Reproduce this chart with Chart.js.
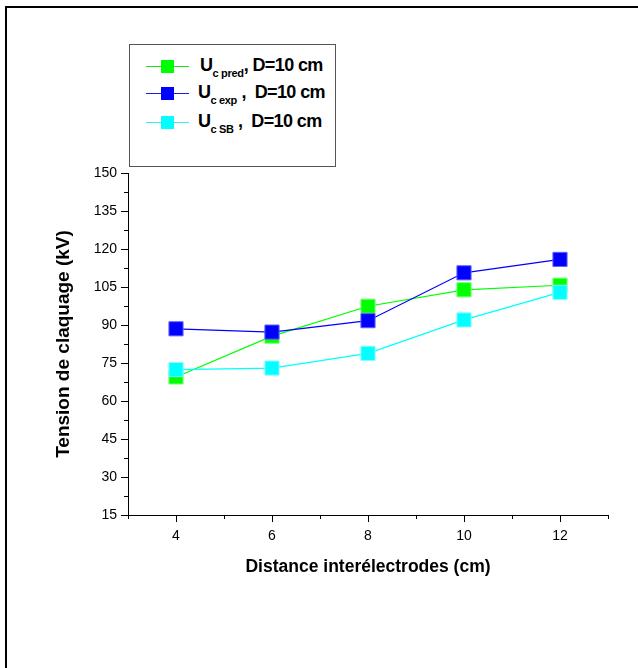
<!DOCTYPE html>
<html>
<head>
<meta charset="utf-8">
<script src="https://cdn.jsdelivr.net/npm/chart.js@4"></script>
<style>
  body { margin: 0; background: #fff; font-family: "Liberation Sans", Arial, sans-serif; }
  #wrap { position: relative; width: 638px; height: 668px; overflow: hidden; }
  #frame { position: absolute; left: 5px; top: 6px; width: 700px; height: 700px;
           border-top: 2px solid #000; border-left: 2px solid #000; }
  canvas { position: absolute; left: 0; top: 0; }
  #legend { position: absolute; left: 129px; top: 44px; width: 205px; height: 121px;
            border: 1px solid #555; background: #fff; }
  .row { position: absolute; left: 0; height: 24px; width: 205px; }
  .row .line { position: absolute; left: 16px; top: 11px; width: 43px; height: 1px; }
  .row .mark { position: absolute; left: 31px; top: 5px; width: 13px; height: 13px; }
  .row .txt { position: absolute; top: 0; font-weight: bold; font-size: 18px;
              letter-spacing: -0.6px; white-space: pre; color: #000; }
  .row sub { font-size: 11px; vertical-align: -6px; letter-spacing: -0.3px; }
</style>
</head>
<body>
<div id="wrap">
  <div id="frame"></div>
  <canvas id="chart" width="638" height="668"></canvas>
  <div id="legend"></div>
</div>
<script>
// Data
const distances = [4, 6, 8, 10, 12];
const ucPred = [69.5, 85.6, 97.4, 103.9, 105.7];
const ucExp  = [88.5, 87.2, 91.7, 110.6, 115.9];
const ucSB   = [72.4, 73.0, 78.8, 92.0, 102.9];

const legendItems = [
  { sub: 'c pred', after: ', D=10 cm', color: '#00ff00', line: '#22dd22', left: 70 },
  { sub: 'c exp',  after: ' ,  D=10 cm', color: '#0000ff', line: '#2020e0', left: 68 },
  { sub: 'c SB',   after: ' ,  D=10 cm', color: '#00ffff', line: '#33eeee', left: 68 }
];

// Build HTML legend (needs subscripts)
const legendEl = document.getElementById('legend');
const rowTops = [10, 37, 66];
legendItems.forEach((item, i) => {
  const row = document.createElement('div');
  row.className = 'row';
  row.style.top = rowTops[i] + 'px';
  row.innerHTML =
    `<div class="line" style="background:${item.line}"></div>` +
    `<div class="mark" style="background:${item.color}"></div>` +
    `<div class="txt" style="left:${item.left}px">U<sub>${item.sub}</sub>${item.after}</div>`;
  legendEl.appendChild(row);
});

const isMajorY = v => Math.abs(v % 15) < 1e-6;
const isMajorX = v => v % 2 === 0;

// Short minor ticks, drawn from the scales
const minorTicks = {
  id: 'minorTicks',
  afterDraw(chart) {
    const { ctx, scales: { x, y } } = chart;
    ctx.save();
    ctx.strokeStyle = '#000';
    ctx.lineWidth = 1;
    x.ticks.forEach(t => {
      if (isMajorX(t.value)) return;
      const px = Math.round(x.getPixelForValue(t.value)) + 0.5;
      ctx.beginPath();
      ctx.moveTo(px, x.top);
      ctx.lineTo(px, x.top + 4);
      ctx.stroke();
    });
    y.ticks.forEach(t => {
      if (isMajorY(t.value)) return;
      const py = Math.round(y.getPixelForValue(t.value)) + 0.5;
      ctx.beginPath();
      ctx.moveTo(y.right, py);
      ctx.lineTo(y.right - 4, py);
      ctx.stroke();
    });
    ctx.restore();
  }
};

const makeSet = (data, color, border, order) => ({
  data: distances.map((d, i) => ({ x: d, y: data[i] })),
  borderColor: color,
  backgroundColor: color,
  borderWidth: 1.2,
  pointStyle: 'rect',
  pointRadius: 10,
  pointBackgroundColor: color,
  pointBorderColor: border,
  pointBorderWidth: 1,
  tension: 0,
  order: order
});

const fam = '"Liberation Sans", Arial, sans-serif';
const tickFont = { family: fam, size: 14 };

new Chart(document.getElementById('chart'), {
  type: 'line',
  data: {
    datasets: [
      makeSet(ucSB, '#00ffff', '#80ffff', 1),
      makeSet(ucExp, '#0000ff', '#6060ff', 2),
      makeSet(ucPred, '#00ff00', '#70ff70', 3)
    ]
  },
  options: {
    responsive: false,
    animation: false,
    layout: { padding: { left: 52, top: 173, right: 30, bottom: 90 } },
    plugins: { legend: { display: false }, tooltip: { enabled: false } },
    scales: {
      x: {
        type: 'linear',
        min: 3,
        max: 13,
        afterFit: s => { s.height = 63; },
        border: { display: true, color: '#000', width: 1 },
        grid: {
          drawOnChartArea: false,
          tickLength: 7,
          tickColor: c => isMajorX(c.tick.value) ? '#000' : 'rgba(0,0,0,0)'
        },
        ticks: {
          stepSize: 1,
          color: '#000',
          font: tickFont,
          padding: 6,
          maxRotation: 0,
          autoSkip: false,
          callback: v => isMajorX(v) ? String(v) : ''
        },
        title: {
          display: true,
          text: 'Distance interélectrodes (cm)',
          color: '#000',
          font: { family: fam, size: 17.5, weight: 'bold' },
          padding: 0
        }
      },
      y: {
        min: 15,
        max: 150,
        afterFit: s => { s.width = 76; },
        border: { display: true, color: '#000', width: 1 },
        grid: {
          drawOnChartArea: false,
          tickLength: 7,
          tickColor: c => isMajorY(c.tick.value) ? '#000' : 'rgba(0,0,0,0)'
        },
        ticks: {
          stepSize: 7.5,
          color: '#000',
          font: tickFont,
          padding: 4,
          autoSkip: false,
          callback: v => isMajorY(v) ? String(v) : ''
        },
        title: {
          display: true,
          text: 'Tension de claquage (kV)',
          color: '#000',
          font: { family: fam, size: 19, weight: 'bold' },
          padding: 0
        }
      }
    }
  },
  plugins: [minorTicks]
});
</script>
</body>
</html>
